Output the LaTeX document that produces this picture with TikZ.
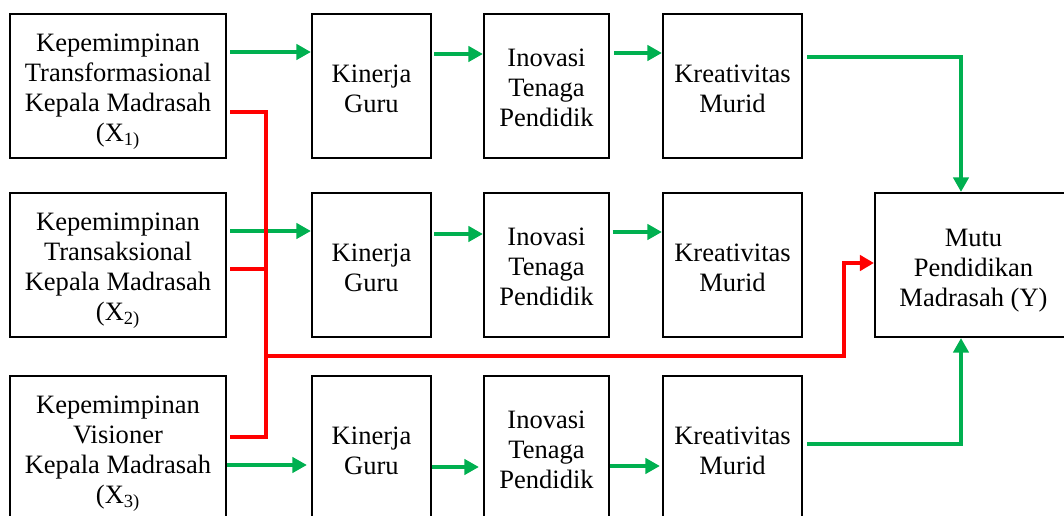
\documentclass[tikz,border=0pt]{standalone}
\usepackage{fontspec}
\setmainfont{Liberation Serif}
\usetikzlibrary{arrows.meta}
\definecolor{ggreen}{HTML}{00B050}
\definecolor{rred}{HTML}{FF0000}
\begin{document}
\begin{tikzpicture}[x=0.75pt,y=-0.75pt,
  box/.style={draw=black,line width=1.6pt,rectangle,inner sep=0pt,minimum height=108pt},
  txt/.style={inner sep=0pt,align=center,font=\fontsize{19.9pt}{22.5pt}\selectfont},
  lbox/.style={box,minimum width=162pt},
  kbox/.style={box,minimum width=89.25pt},
  ibox/.style={box,minimum width=93.75pt},
  rbox/.style={box,minimum width=104.25pt},
  mbox/.style={box,minimum width=147.75pt},
  garrow/.style={draw=ggreen,line width=3pt,-{Triangle[length=11pt,width=11.5pt]}},
  rline/.style={draw=rred,line width=3pt},
  rarrow/.style={rline,-{Triangle[length=10.5pt,width=11.5pt]}},
]
\useasboundingbox (0,0) rectangle (1064,516);
% row 1
\node[lbox] (L1) at (118,86) {};
\node[kbox] (K1) at (371.5,86) {};
\node[ibox] (I1) at (546.5,86) {};
\node[rbox] (R1) at (732.5,86) {};
% row 2
\node[lbox] (L2) at (118,265) {};
\node[kbox] (K2) at (371.5,265) {};
\node[ibox] (I2) at (546.5,265) {};
\node[rbox] (R2) at (732.5,265) {};
% row 3
\node[lbox] (L3) at (118,448) {};
\node[kbox] (K3) at (371.5,448) {};
\node[ibox] (I3) at (546.5,448) {};
\node[rbox] (R3) at (732.5,448) {};
% outcome
\node[mbox] (M) at (973.5,265) {};
% texts
\node[txt] (tL1) at ([yshift=-4pt]L1.center) {Kepemimpinan\\Transformasional\\Kepala Madrasah\\(X\textsubscript{1)}};
\node[txt] (tL2) at ([yshift=-4pt]L2.center) {Kepemimpinan\\Transaksional\\Kepala Madrasah\\(X\textsubscript{2)}};
\node[txt] (tL3) at ([yshift=-4.5pt]L3.center) {Kepemimpinan\\Visioner\\Kepala Madrasah\\(X\textsubscript{3)}};
\foreach \r in {1,2,3}{
  \node[txt] (tK\r) at ([yshift=-2.25pt]K\r.center) {Kinerja\\Guru};
  \node[txt] (tI\r) at ([yshift=-1.5pt]I\r.center) {Inovasi\\Tenaga\\Pendidik};
  \node[txt] (tR\r) at ([yshift=-2.25pt]R\r.center) {Kreativitas\\Murid};
}
\node[txt] (tM) at ([yshift=-4.5pt]M.center) {Mutu\\Pendidikan\\Madrasah (Y)};
% green arrows row 1
\draw[garrow,shorten <=2.25pt] (L1.east |- 0,52) -- (K1.west |- 0,52);
\draw[garrow,shorten <=1.5pt] (K1.east |- 0,54) -- (I1.west |- 0,54);
\draw[garrow,shorten <=3pt] (I1.east |- 0,53) -- (R1.west |- 0,53);
\draw[garrow,shorten <=3pt] (R1.east |- 0,57) -- (961,57) -- (M.north -| 961,0);
% green arrows row 2
\draw[garrow,shorten <=2.25pt] (L2.east |- 0,231) -- (K2.west |- 0,231);
\draw[garrow,shorten <=1.5pt] (K2.east |- 0,234) -- (I2.west |- 0,234);
\draw[garrow,shorten <=2pt] (I2.east |- 0,232) -- (R2.west |- 0,232);
% green arrows row 3
\draw[garrow,shorten >=3pt] (L3.east |- 0,465) -- (K3.west |- 0,465);
\draw[garrow,shorten >=3pt] (K3.east |- 0,467) -- (I3.west |- 0,467);
\draw[garrow,shorten >=1.5pt] (I3.east |- 0,466) -- (R3.west |- 0,466);
\draw[garrow,shorten <=3pt] (R3.east |- 0,444) -- (961,444) -- (M.south -| 961,0);
% red connectors
\draw[rline,shorten <=2.25pt,shorten >=2.25pt] (L1.east |- 0,112) -- (266,112) -- (266,437) -- (L3.east |- 0,437);
\draw[rline,shorten <=2.25pt] (L2.east |- 0,269) -- (266,269);
\draw[rarrow] (266,356) -- (844,356) -- (844,263) -- (M.west |- 0,263);
\end{tikzpicture}
\end{document}
